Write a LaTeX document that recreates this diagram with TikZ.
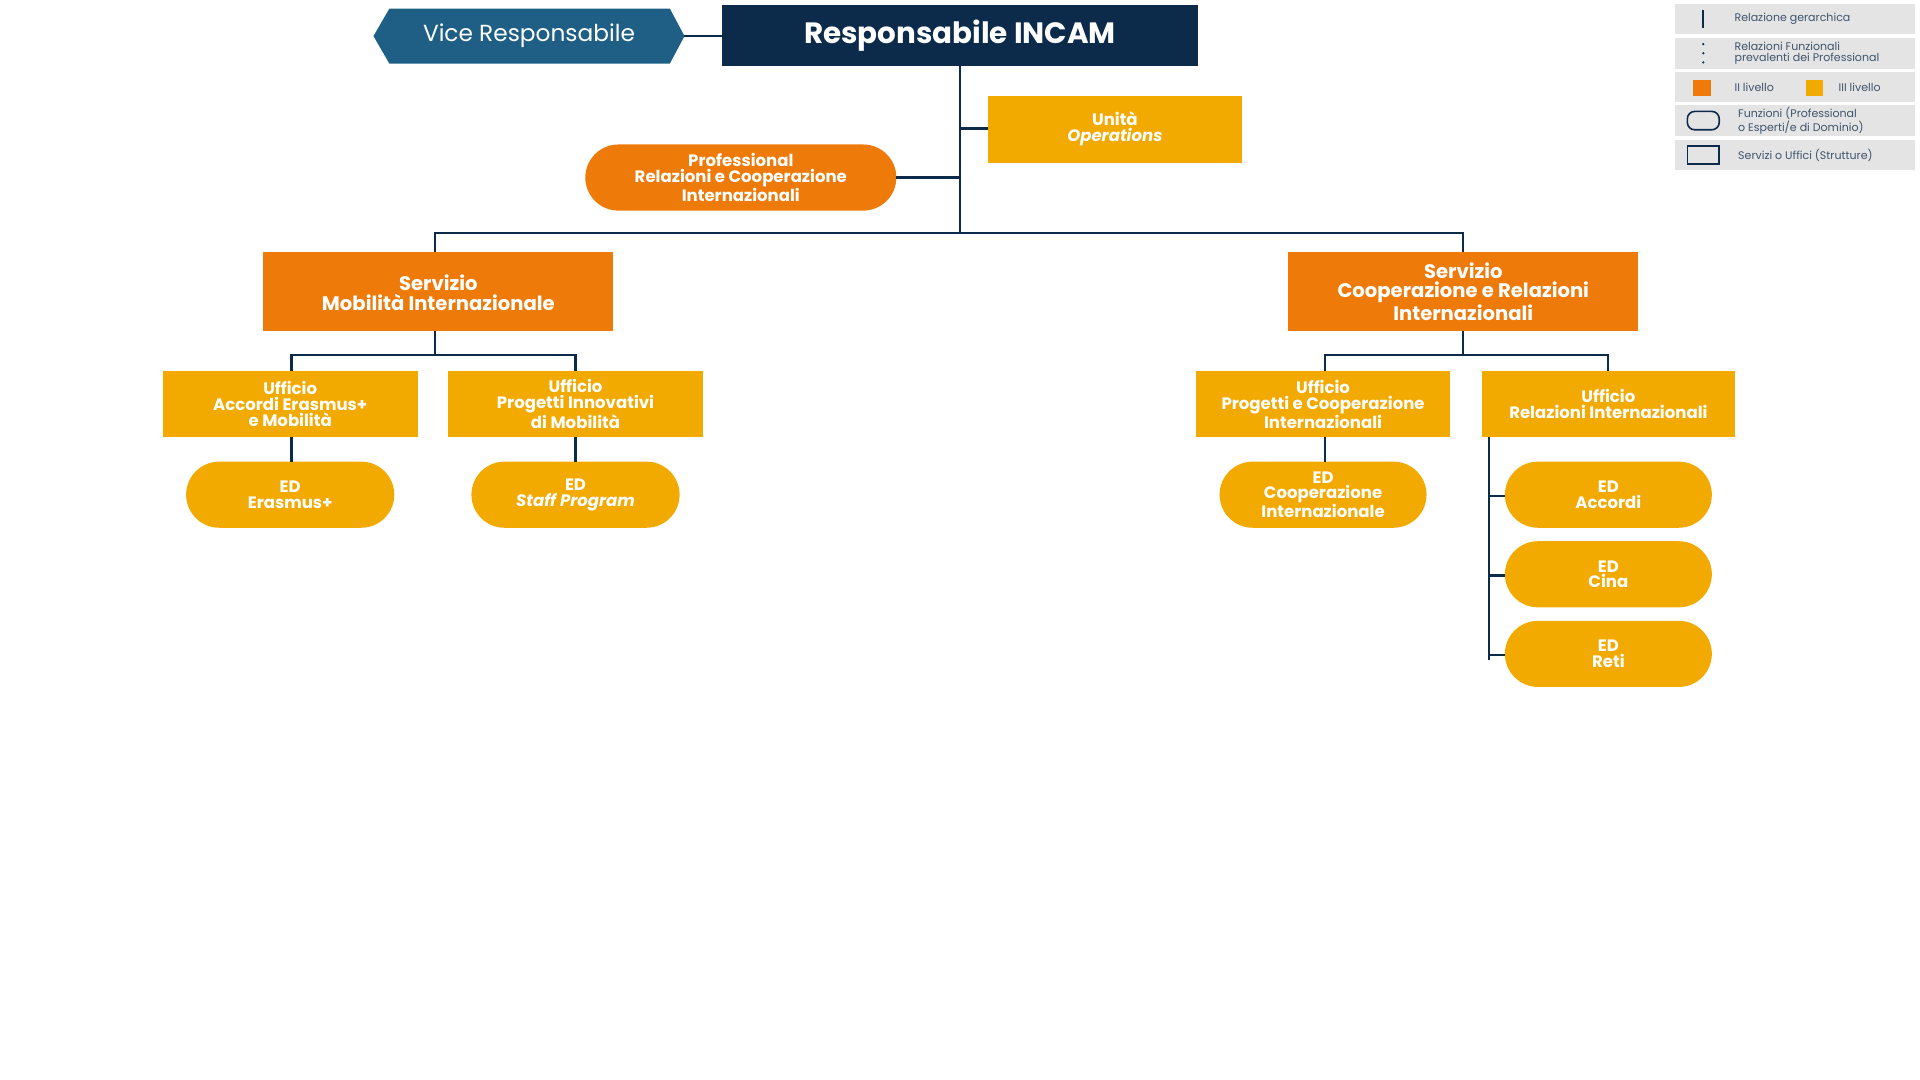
\documentclass[tikz,border=0pt]{standalone}
\usepackage{fontspec}
\setmainfont{Poppins}
\usetikzlibrary{shapes.geometric}
\definecolor{navy}{HTML}{0C2A4A}
\definecolor{vice}{HTML}{1F5F85}
\definecolor{orng}{HTML}{EE7A0A}
\definecolor{yell}{HTML}{F2A900}
\definecolor{lg}{HTML}{E4E4E4}
\begin{document}
\begin{tikzpicture}[x=1pt,y=-1pt,
 box/.style={inner sep=0,align=center,text=white,font=\fontsize{13.5}{13}\selectfont\bfseries},
 ln/.style={draw=navy,line width=1.8pt},
 lgt/.style={font=\fontsize{9}{8.5}\selectfont,text=navy!80,anchor=west,align=left}]
\useasboundingbox (0,0) rectangle (1568,882);
% top
\fill[vice] (318,7)--(547,7)--(559,29.5)--(547,52)--(318,52)--(305,29.5)--cycle;
\node[box,font=\fontsize{19}{20}\selectfont] (vice) at (432,29.5) {Vice Responsabile};
\fill[navy] (590,4) rectangle (978,54);
\node[box,font=\fontsize{24}{24}\selectfont\bfseries] (resp) at (784,29) {Responsabile INCAM};
\coordinate (vr) at (559,29.5); \coordinate (rl) at (590,29.5);
\draw[ln] (vr)--(rl);
% unita & professional
\fill[yell] (807,78) rectangle (1014,133);
\node[box] (op) at (910.5,105.5) {Unità\\\itshape Operations};
\fill[orng,rounded corners=27pt] (478,118) rectangle (732,172);
\node[box] (prof) at (605,145) {Professional\\Relazioni e Cooperazione\\Internazionali};
\coordinate (t0) at (784,54); \coordinate (t1) at (784,190);
\coordinate (op1) at (784,105); \coordinate (op2) at (807,105);
\coordinate (pr1) at (732,145); \coordinate (pr2) at (784,145);
\draw[ln] (t0)--(t1) (op1)--(op2) (pr1)--(pr2);
% services
\fill[orng] (215,206) rectangle (501,270);
\node[box,font=\fontsize{16}{16}\selectfont\bfseries] (s1) at (358,239) {Servizio\\Mobilità Internazionale};
\fill[orng] (1052,206) rectangle (1338,270);
\node[box,font=\fontsize{16}{16}\selectfont\bfseries] (s2) at (1195,238) {Servizio\\Cooperazione e Relazioni\\Internazionali};
\draw[ln] (355,206)--(355,190)--(1195,190)--(1195,206);
% left uffici
\fill[yell] (133,303) rectangle (341,357);
\node[box] (u1) at (237,330) {Ufficio\\Accordi Erasmus+\\e Mobilità};
\fill[yell] (366,303) rectangle (574,357);
\node[box] (u2) at (470,330) {Ufficio\\Progetti Innovativi\\di Mobilità};
\draw[ln] (355,270)--(355,290) (238,303)--(238,290)--(470,290)--(470,303);
\fill[yell,rounded corners=27pt] (152,377) rectangle (322,431);
\node[box] (e1) at (237,404) {ED\\Erasmus+};
\fill[yell,rounded corners=27pt] (385,377) rectangle (555,431);
\node[box] (e2) at (470,404) {ED\\\itshape Staff Program};
\draw[ln] (238,357)--(238,377) (470,357)--(470,377);
% right uffici
\fill[yell] (977,303) rectangle (1184,357);
\node[box] (u3) at (1080.5,330) {Ufficio\\Progetti e Cooperazione\\Internazionali};
\fill[yell] (1210,303) rectangle (1417,357);
\node[box] (u4) at (1313.5,330) {Ufficio\\Relazioni Internazionali};
\draw[ln] (1195,270)--(1195,290) (1082,303)--(1082,290)--(1313,290)--(1313,303);
\fill[yell,rounded corners=27pt] (996,377) rectangle (1165,431);
\node[box] (e3) at (1080.5,404) {ED\\Cooperazione\\Internazionale};
\draw[ln] (1082,357)--(1082,377);
\foreach \n/\t/\y in {a/Accordi/377,b/Cina/442,c/Reti/507}{
 \fill[yell,rounded corners=27pt] (1229,\y) rectangle (1398,\y+54);
 \node[box] (r\n) at (1313.5,\y+27) {ED\\\t};
 \draw[ln] (1216,\y+28)--(1229,\y+28);}
\draw[ln] (1216,357)--(1216,539);
% legend
\foreach \a/\b in {3/28,31/56,59/83,86/111,114/139} \fill[lg] (1368,\a) rectangle (1564,\b);
\draw[navy,line width=1.5pt] (1391,8)--(1391,23);
\foreach \y in {36,43.5,51} \fill[navy] (1391,\y) circle (1pt);
\fill[orng] (1383,65) rectangle (1397,78);
\fill[yell] (1475,65) rectangle (1489,78);
\draw[navy,line width=1.3pt,rounded corners=6pt] (1378,91) rectangle (1404,106);
\draw[navy,line width=1.3pt] (1378,119) rectangle (1404,134);
\node[lgt] (l1) at (1413,15.5) {Relazione gerarchica};
\node[lgt] (l2) at (1413,43.5) {Relazioni Funzionali\\prevalenti dei Professional};
\node[lgt] (l3) at (1413,71) {II livello};
\node[lgt] (l4) at (1498,71) {III livello};
\node[lgt] (l5) at (1416,98.5) {Funzioni (Professional\\o Esperti/e di Dominio)};
\node[lgt] (l6) at (1416,126.5) {Servizi o Uffici (Strutture)};
\end{tikzpicture}
\end{document}
